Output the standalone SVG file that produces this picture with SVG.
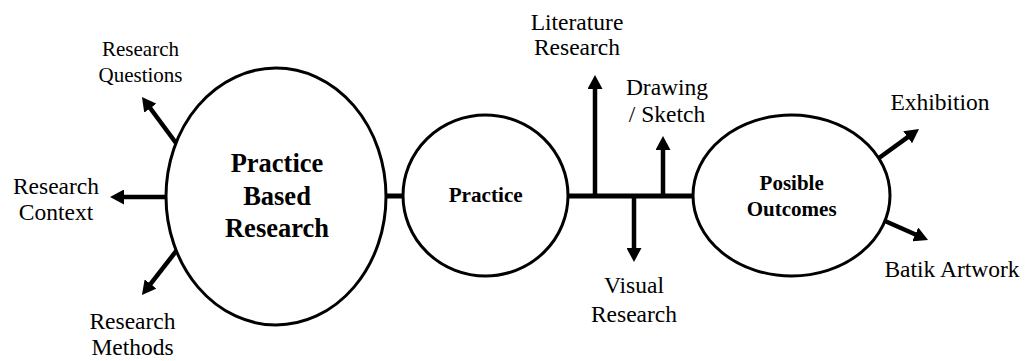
<svg xmlns="http://www.w3.org/2000/svg" width="1027" height="361" viewBox="0 0 1027 361">
<style>
.node{fill:#fff;stroke:#000;stroke-width:3}
.lbl{font-family:"Liberation Serif","Times New Roman",serif;fill:#000;text-anchor:middle}
.b{font-weight:bold}
.c{stroke:#000;stroke-width:5;fill:none}
.a{stroke:#000;stroke-width:4.5;fill:none;marker-end:url(#ah)}
</style>
<defs>
<marker id="ah" viewBox="0 0 14 15" markerWidth="14" markerHeight="15" refX="4" refY="7.5" markerUnits="userSpaceOnUse" orient="auto">
<path d="M0,0 L14,7.5 L0,15 z" fill="#000"/>
</marker>
</defs>
<g id="connectors">
<line class="c" x1="384" y1="196" x2="405" y2="196"/>
<line class="c" x1="566" y1="196" x2="695" y2="196"/>
<line class="a" x1="176" y1="143" x2="147.9" y2="105"/>
<line class="a" x1="166" y1="197" x2="120" y2="197"/>
<line class="a" x1="177" y1="250" x2="148.1" y2="287.1"/>
<line class="a" x1="595" y1="198" x2="595" y2="85"/>
<line class="a" x1="663" y1="198" x2="663" y2="146"/>
<line class="a" x1="634" y1="194" x2="634" y2="252"/>
<line class="a" x1="879" y1="158" x2="910.9" y2="134.9"/>
<line class="a" x1="885" y1="221" x2="918.9" y2="236"/>
</g>
<g id="pbr">
<ellipse class="node" cx="276" cy="196.5" rx="110" ry="128.5"/>
<text class="lbl b" font-size="26.5" x="277" y="172">Practice</text>
<text class="lbl b" font-size="26.5" x="277" y="204.5">Based</text>
<text class="lbl b" font-size="26.5" x="277" y="237">Research</text>
</g>
<g id="practice">
<ellipse class="node" cx="485.5" cy="195.5" rx="82.5" ry="80.5"/>
<text class="lbl b" font-size="21.2" x="485.7" y="201.7">Practice</text>
</g>
<g id="outcomes">
<ellipse class="node" cx="791.5" cy="195.5" rx="98.5" ry="80.5"/>
<text class="lbl b" font-size="21" x="791.7" y="190">Posible</text>
<text class="lbl b" font-size="21" x="791.7" y="216">Outcomes</text>
</g>
<g id="questions">
<text class="lbl" font-size="21" x="140.5" y="56">Research</text>
<text class="lbl" font-size="21" x="140.5" y="82">Questions</text>
</g>
<g id="context">
<text class="lbl" font-size="23.5" x="56" y="193.5">Research</text>
<text class="lbl" font-size="23.5" x="56" y="220">Context</text>
</g>
<g id="methods">
<text class="lbl" font-size="23.5" x="132.5" y="328.5">Research</text>
<text class="lbl" font-size="23.5" x="132.5" y="355">Methods</text>
</g>
<g id="literature">
<text class="lbl" font-size="23.5" x="577" y="29.5">Literature</text>
<text class="lbl" font-size="23.5" x="577" y="55">Research</text>
</g>
<g id="drawing">
<text class="lbl" font-size="23.5" x="667" y="94.5">Drawing</text>
<text class="lbl" font-size="23.5" x="667" y="121.5">/ Sketch</text>
</g>
<g id="visual">
<text class="lbl" font-size="23.5" x="634" y="293">Visual</text>
<text class="lbl" font-size="23.5" x="634" y="322">Research</text>
</g>
<g id="exhibition">
<text class="lbl" font-size="23.5" x="940" y="110">Exhibition</text>
</g>
<g id="batik">
<text class="lbl" font-size="23.5" x="952" y="277">Batik Artwork</text>
</g>
</svg>
